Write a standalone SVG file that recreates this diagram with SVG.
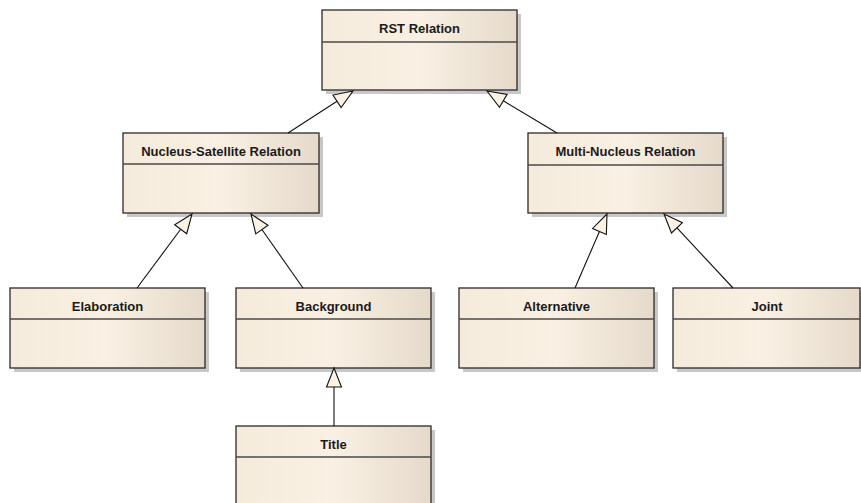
<svg xmlns="http://www.w3.org/2000/svg" width="861" height="503" viewBox="0 0 861 503">
<defs>
<linearGradient id="fill" x1="0" y1="0" x2="1" y2="0">
<stop offset="0" stop-color="#F5EBDB"/>
<stop offset="0.5" stop-color="#F9F0E3"/>
<stop offset="1" stop-color="#E5DACA"/>
</linearGradient>
<style>
.shadow{fill:#C8C8C8}
.box{fill:url(#fill);stroke:#2A2A2A;stroke-width:1.3}
.div{stroke:#4A4A4A;stroke-width:1.3}
.t{font-family:"Liberation Sans",Arial,sans-serif;font-weight:bold;font-size:13px;fill:#1A1A1A;text-anchor:middle}
.line{stroke:#111;stroke-width:1.1;fill:none}
.head{fill:#FBF2E4;stroke:#111;stroke-width:1.1;stroke-linejoin:miter}
</style>
</defs>
<rect width="861" height="503" fill="#FFFFFF"/>
<g id="rst-relation">
<rect class="shadow" x="326" y="14" width="195" height="80"/>
<rect class="box" x="322" y="10" width="195" height="80"/>
<line class="div" x1="322" y1="42" x2="517" y2="42"/>
<text class="t" x="419.5" y="32.5">RST Relation</text>
</g>
<g id="nucleus-satellite-relation">
<rect class="shadow" x="127" y="137" width="196" height="80"/>
<rect class="box" x="123" y="133" width="196" height="80"/>
<line class="div" x1="123" y1="164" x2="319" y2="164"/>
<text class="t" x="221" y="155.5">Nucleus-Satellite Relation</text>
</g>
<g id="multi-nucleus-relation">
<rect class="shadow" x="532" y="137" width="195" height="80"/>
<rect class="box" x="528" y="133" width="195" height="80"/>
<line class="div" x1="528" y1="165" x2="723" y2="165"/>
<text class="t" x="625.5" y="155.5">Multi-Nucleus Relation</text>
</g>
<g id="elaboration">
<rect class="shadow" x="14" y="292" width="195" height="80"/>
<rect class="box" x="10" y="288" width="195" height="80"/>
<line class="div" x1="10" y1="319" x2="205" y2="319"/>
<text class="t" x="107.5" y="310.5">Elaboration</text>
</g>
<g id="background">
<rect class="shadow" x="240" y="292" width="195" height="80"/>
<rect class="box" x="236" y="288" width="195" height="80"/>
<line class="div" x1="236" y1="319" x2="431" y2="319"/>
<text class="t" x="333.5" y="310.5">Background</text>
</g>
<g id="alternative">
<rect class="shadow" x="463" y="292" width="195" height="80"/>
<rect class="box" x="459" y="288" width="195" height="80"/>
<line class="div" x1="459" y1="319" x2="654" y2="319"/>
<text class="t" x="556.5" y="310.5">Alternative</text>
</g>
<g id="joint">
<rect class="shadow" x="677" y="292" width="187" height="80"/>
<rect class="box" x="673" y="288" width="187" height="80"/>
<line class="div" x1="673" y1="319" x2="860" y2="319"/>
<text class="t" x="767" y="310.5">Joint</text>
</g>
<g id="title">
<rect class="shadow" x="240" y="430" width="195" height="80"/>
<rect class="box" x="236" y="426" width="195" height="80"/>
<line class="div" x1="236" y1="457" x2="431" y2="457"/>
<text class="t" x="333.5" y="448.5">Title</text>
</g>
<g id="connectors">
<line class="line" x1="288" y1="133" x2="337.04" y2="101.31"/>
<polygon class="head" points="353,91 332.97,95.01 341.11,107.61"/>
<line class="line" x1="557" y1="133" x2="503.29" y2="100.78"/>
<polygon class="head" points="487,91 499.43,107.21 507.15,94.35"/>
<line class="line" x1="137" y1="288" x2="180.67" y2="229.25"/>
<polygon class="head" points="192,214 174.65,224.78 186.69,233.72"/>
<line class="line" x1="303" y1="288" x2="261.92" y2="229.55"/>
<polygon class="head" points="251,214 255.78,233.86 268.06,225.24"/>
<line class="line" x1="575" y1="288" x2="599.46" y2="231.44"/>
<polygon class="head" points="607,214 592.57,228.46 606.35,234.42"/>
<line class="line" x1="733" y1="288" x2="676.96" y2="227.89"/>
<polygon class="head" points="664,214 671.48,233.01 682.44,222.77"/>
<line class="line" x1="334" y1="426" x2="334" y2="387"/>
<polygon class="head" points="334,368 326.5,387 341.5,387"/>
</g>
</svg>
